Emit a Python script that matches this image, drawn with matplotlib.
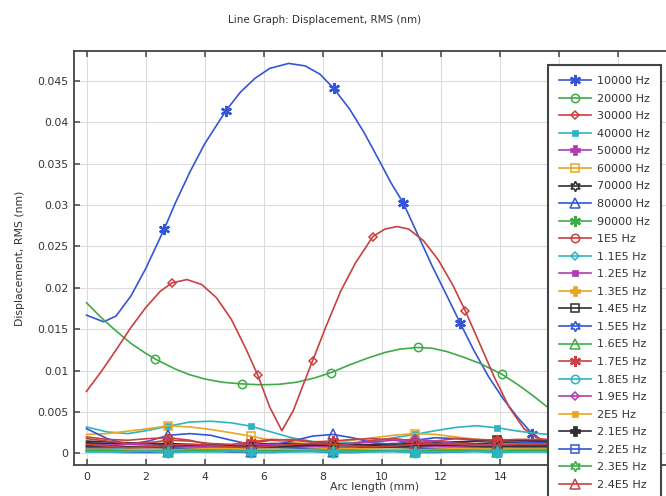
import numpy as np
import matplotlib.pyplot as plt
from matplotlib.ticker import FuncFormatter

# displacement values below are in units of 1e-3 nm
# --- the three large responses, each with its own abscissa ---
x_10k = [0, 0.58, 1.0, 1.5, 2.0, 2.63, 3.0, 3.5, 4.0, 4.72, 5.2, 5.7, 6.2, 6.84, 7.4, 7.9,
         8.36, 8.9, 9.4, 9.9, 10.3, 10.71, 11.2, 11.7, 12.2, 12.65, 13.1, 13.6, 14.1, 14.6,
         15.08, 15.5, 16.0]
y_10k = [16.7, 15.9, 16.6, 19.0, 22.3, 27.1, 30.2, 34.0, 37.4, 41.4, 43.6, 45.3, 46.5, 47.1,
         46.8, 45.8, 44.1, 41.6, 38.7, 35.4, 32.7, 30.3, 26.5, 22.6, 19.0, 15.7, 12.5, 9.3,
         6.6, 4.3, 2.4, 1.4, 0.9]
mk_10k = [2.63, 4.72, 8.36, 10.71, 12.65, 15.08]

x_20k = [0, 0.5, 1.0, 1.5, 2.0, 2.33, 3.0, 3.5, 4.0, 4.6, 5.26, 5.9, 6.5, 7.1, 7.7, 8.27,
         8.9, 9.5, 10.1, 10.6, 11.2, 11.7, 12.2, 12.7, 13.3, 14.06, 14.6, 15.1, 15.6, 16.1]
y_20k = [18.2, 16.4, 14.8, 13.3, 12.1, 11.4, 10.2, 9.5, 9.0, 8.6, 8.4, 8.3, 8.35, 8.6, 9.1,
         9.76, 10.7, 11.5, 12.2, 12.6, 12.8, 12.7, 12.3, 11.7, 10.9, 9.56, 8.3, 7.0, 5.6, 4.4]
mk_20k = [2.33, 5.26, 8.27, 11.2, 14.06]

x_30k = [0, 0.5, 1.0, 1.5, 2.0, 2.5, 2.89, 3.4, 3.9, 4.4, 4.9, 5.4, 5.79, 6.2, 6.61, 7.0,
         7.3, 7.65, 8.1, 8.6, 9.1, 9.69, 10.1, 10.5, 10.9, 11.4, 11.9, 12.4, 12.82, 13.3,
         13.8, 14.3, 14.8, 15.3, 15.8]
y_30k = [7.5, 9.9, 12.5, 15.2, 17.6, 19.6, 20.6, 21.0, 20.4, 18.8, 16.2, 12.6, 9.5, 5.6,
         2.75, 5.2, 8.0, 11.2, 15.3, 19.6, 23.0, 26.2, 27.1, 27.4, 27.1, 25.7, 23.4, 20.3,
         17.2, 13.3, 9.2, 5.6, 3.0, 1.8, 1.5]
mk_30k = [2.89, 5.79, 7.65, 9.69, 12.82]

# --- the small responses share one abscissa ---
x_low = [0, 0.7, 1.4, 2.1, 2.77, 3.5, 4.2, 4.9, 5.55, 6.25, 6.95, 7.65, 8.33, 9.0, 9.7,
         10.4, 11.1, 11.8, 12.5, 13.2, 13.9, 14.6, 15.3, 16.0]
mk_low = [2.77, 5.55, 8.33, 11.1, 13.9]

y_40k = [3.2, 2.6, 2.4, 2.8, 3.3, 3.8, 3.9, 3.7, 3.3, 2.6, 1.9, 1.45, 1.3, 1.3, 1.5, 1.9,
         2.3, 2.75, 3.15, 3.35, 3.1, 2.7, 2.4, 2.2]
y_50k = [0.8, 0.7, 0.6, 0.7, 0.8, 0.9, 0.8, 0.7, 0.6, 0.7, 0.8, 0.9, 0.8, 0.7, 0.7, 0.8,
         0.9, 0.9, 0.8, 0.8, 0.9, 1.0, 1.1, 1.1]
y_60k = [2.3, 2.4, 2.7, 3.0, 3.35, 3.2, 2.9, 2.5, 2.1, 1.6, 1.3, 1.2, 1.3, 1.6, 1.9, 2.2,
         2.4, 2.3, 2.0, 1.7, 1.5, 1.4, 1.4, 1.4]
y_70k = [1.5, 1.4, 1.3, 1.2, 1.1, 0.9, 0.8, 0.9, 1.1, 1.2, 1.2, 1.1, 1.0, 1.0, 1.1, 1.2,
         1.2, 1.1, 1.1, 1.2, 1.3, 1.3, 1.3, 1.3]
y_80k = [3.0, 1.8, 1.1, 1.5, 2.2, 2.4, 2.2, 1.6, 1.1, 1.0, 1.5, 2.1, 2.3, 1.9, 1.3, 1.1,
         1.6, 1.9, 1.8, 1.6, 1.5, 1.4, 1.3, 1.3]
y_90k = [0.5, 0.5, 0.4, 0.4, 0.5, 0.6, 0.6, 0.5, 0.4, 0.4, 0.5, 0.6, 0.6, 0.5, 0.4, 0.4,
         0.5, 0.6, 0.6, 0.5, 0.5, 0.5, 0.6, 0.6]
y_100k = [2.0, 1.7, 1.6, 1.8, 1.9, 1.6, 1.0, 0.8, 1.2, 1.6, 1.7, 1.4, 1.1, 1.2, 1.6, 1.8,
          1.5, 1.1, 1.2, 1.5, 1.6, 1.5, 1.5, 1.5]
y_110k = [0.6, 0.6, 0.5, 0.5, 0.6, 0.6, 0.6, 0.5, 0.5, 0.5, 0.6, 0.6, 0.6, 0.5, 0.5, 0.5,
          0.6, 0.6, 0.6, 0.6, 0.6, 0.7, 0.7, 0.7]
y_120k = [1.2, 1.0, 0.8, 0.7, 0.8, 0.9, 1.0, 1.0, 0.9, 0.8, 0.8, 0.9, 1.0, 1.0, 0.9, 0.8,
          0.9, 1.0, 1.1, 1.1, 1.0, 1.0, 1.0, 1.0]
y_130k = [0.4, 0.4, 0.5, 0.5, 0.5, 0.4, 0.4, 0.4, 0.5, 0.5, 0.5, 0.4, 0.4, 0.4, 0.5, 0.5,
          0.5, 0.4, 0.4, 0.4, 0.5, 0.5, 0.5, 0.5]
y_140k = [1.3, 1.2, 1.2, 1.2, 1.2, 1.1, 1.0, 0.9, 0.9, 1.0, 1.1, 1.2, 1.2, 1.1, 1.0, 1.0,
          1.1, 1.3, 1.4, 1.5, 1.6, 1.6, 1.5, 1.5]
y_150k = [0.7, 0.7, 0.8, 0.8, 0.7, 0.6, 0.6, 0.7, 0.8, 0.8, 0.7, 0.6, 0.6, 0.7, 0.8, 0.8,
          0.7, 0.6, 0.6, 0.7, 0.8, 0.8, 0.8, 0.8]
y_160k = [0.3, 0.3, 0.3, 0.3, 0.2, 0.3, 0.3, 0.3, 0.2, 0.3, 0.3, 0.3, 0.2, 0.3, 0.3, 0.3,
          0.2, 0.3, 0.3, 0.3, 0.2, 0.3, 0.3, 0.3]
y_170k = [1.8, 1.5, 1.2, 1.3, 1.6, 1.5, 1.2, 1.1, 1.4, 1.7, 1.6, 1.4, 1.5, 1.7, 1.8, 1.6,
          1.3, 1.5, 1.8, 1.7, 1.6, 1.7, 1.7, 1.7]
y_180k = [0.2, 0.2, 0.1, 0.1, 0.1, 0.2, 0.2, 0.2, 0.1, 0.1, 0.2, 0.2, 0.1, 0.1, 0.2, 0.2,
          0.1, 0.1, 0.2, 0.2, 0.1, 0.2, 0.2, 0.2]
y_190k = [0.9, 1.0, 1.1, 1.0, 0.9, 0.8, 0.8, 0.9, 1.0, 1.1, 1.0, 0.9, 1.0, 1.2, 1.4, 1.6,
          1.7, 1.5, 1.2, 1.0, 1.0, 1.1, 1.1, 1.1]
y_200k = [0.5, 0.5, 0.4, 0.4, 0.4, 0.5, 0.6, 0.6, 0.5, 0.4, 0.4, 0.5, 0.6, 0.6, 0.5, 0.4,
          0.4, 0.5, 0.6, 0.6, 0.5, 0.5, 0.5, 0.5]
y_210k = [0.9, 0.9, 0.8, 0.8, 0.9, 1.0, 1.0, 0.9, 0.8, 0.8, 0.9, 1.0, 1.0, 0.9, 0.8, 0.8,
          0.9, 1.0, 1.0, 0.9, 0.9, 0.9, 0.9, 0.9]
y_220k = [0.3, 0.3, 0.2, 0.2, 0.3, 0.3, 0.3, 0.2, 0.2, 0.3, 0.3, 0.3, 0.2, 0.2, 0.3, 0.3,
          0.3, 0.2, 0.2, 0.3, 0.3, 0.3, 0.3, 0.3]
y_230k = [0.4, 0.4, 0.3, 0.3, 0.3, 0.4, 0.4, 0.4, 0.3, 0.3, 0.3, 0.4, 0.4, 0.4, 0.3, 0.3,
          0.3, 0.4, 0.4, 0.4, 0.3, 0.4, 0.4, 0.4]
y_240k = [1.1, 0.9, 0.7, 0.8, 1.0, 1.1, 1.0, 0.8, 0.7, 0.9, 1.1, 1.2, 1.1, 0.9, 0.8, 0.9,
          1.1, 1.2, 1.1, 1.0, 1.0, 1.1, 1.1, 1.1]
y_250k = [0.2, 0.2, 0.2, 0.3, 0.2, 0.2, 0.2, 0.3, 0.2, 0.2, 0.2, 0.3, 0.2, 0.2, 0.2, 0.3,
          0.2, 0.2, 0.2, 0.3, 0.2, 0.2, 0.2, 0.2]

labels = ['10000 Hz', '20000 Hz', '30000 Hz', '40000 Hz', '50000 Hz', '60000 Hz',
          '70000 Hz', '80000 Hz', '90000 Hz', '1E5 Hz', '1.1E5 Hz', '1.2E5 Hz',
          '1.3E5 Hz', '1.4E5 Hz', '1.5E5 Hz', '1.6E5 Hz', '1.7E5 Hz', '1.8E5 Hz',
          '1.9E5 Hz', '2E5 Hz', '2.1E5 Hz', '2.2E5 Hz', '2.3E5 Hz', '2.4E5 Hz', '2.5E5 Hz']

series = [(x_10k, y_10k, mk_10k), (x_20k, y_20k, mk_20k), (x_30k, y_30k, mk_30k)]
for y in [y_40k, y_50k, y_60k, y_70k, y_80k, y_90k, y_100k, y_110k, y_120k, y_130k,
          y_140k, y_150k, y_160k, y_170k, y_180k, y_190k, y_200k, y_210k, y_220k,
          y_230k, y_240k, y_250k]:
    series.append((x_low, y, mk_low))

# colour and marker cycles
colors = ['#3456d4', '#3eab48', '#c94040', '#2db4c2', '#b13bb3', '#e8a624', '#2e2e2e']
mstyles = [
    dict(marker=(6, 2, 0), ms=8, mew=1.7),
    dict(marker='o', ms=6, mfc='none', mew=1.1),
    dict(marker='D', ms=4.2, mfc='none', mew=1.1),
    dict(marker='s', ms=4.5, mew=0.5),
    dict(marker='P', ms=6.5, mew=0.5),
    dict(marker='s', ms=6, mfc='none', mew=1.1),
    dict(marker=(6, 1, 0), ms=7.5, mfc='none', mew=1.1),
    dict(marker='^', ms=6.5, mfc='none', mew=1.1),
]

fig = plt.figure(figsize=(6.66, 4.96), dpi=100)
W, H = 666.0, 496.0
ax = fig.add_axes([73.5 / W, 1 - 465 / H, (690 - 73.5) / W, (465 - 51) / H])

for i, (xs, ys, mk) in enumerate(series):
    xs = np.array(xs)
    ys = np.array(ys) * 1e-3
    idx = [int(np.argmin(np.abs(xs - m))) for m in mk]
    c = colors[i % len(colors)]
    st = dict(mstyles[i % len(mstyles)])
    if st.get('mfc') != 'none':
        st['mfc'] = c
    ax.plot(xs, ys, color=c, lw=1.2, markevery=idx, mec=c, label=labels[i], **st)

ax.set_xlim(-0.44, 20.42)
ax.set_ylim(-0.00139, 0.0486)
xt = np.arange(0, 21, 2)
ax.set_xticks(xt)
# labels under the legend box are not shown
ax.set_xticklabels([str(v) if v < 16 else '' for v in xt])
ax.set_yticks(np.arange(0, 0.0451, 0.005))
ax.yaxis.set_major_formatter(FuncFormatter(lambda v, p: '%g' % round(v, 4)))
ax.grid(True, color='#dcdcdc', lw=0.8)
ax.set_axisbelow(True)
ax.tick_params(direction='in', top=True, right=True, length=4, width=1.1,
               color='#444444', labelcolor='#333333', labelsize=7.8, pad=3.5)
ax.tick_params(axis='x', pad=5)
for s in ax.spines.values():
    s.set_color('#444444')
    s.set_linewidth(1.3)

leg = ax.legend(loc='upper left', bbox_to_anchor=(548 / W, 1 - 65 / H),
                bbox_transform=fig.transFigure, borderaxespad=0, fontsize=8,
                handlelength=2.9, handletextpad=0.5, labelspacing=0.68,
                borderpad=1.0, fancybox=False, framealpha=1)
leg.get_frame().set_edgecolor('#444444')
leg.get_frame().set_linewidth(1.5)
for t in leg.get_texts():
    t.set_color('#333333')

fig.text(325 / W, 1 - 20 / H, 'Line Graph: Displacement, RMS (nm)', ha='center',
         va='center', fontsize=7.5, color='#333333')
fig.text(375 / W, 1 - 487 / H, 'Arc length (mm)', ha='center', va='center',
         fontsize=7.8, color='#333333')
fig.text(20 / W, 1 - 258 / H, 'Displacement, RMS (nm)', ha='center', va='center',
         rotation=90, fontsize=7.8, color='#333333')

fig.savefig('out.png', dpi=100)
